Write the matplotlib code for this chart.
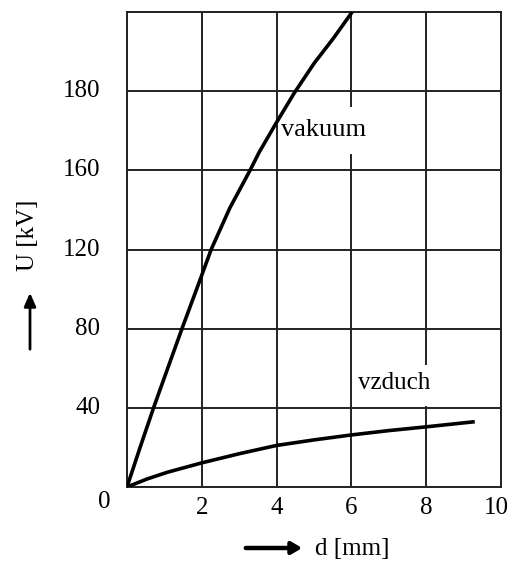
import matplotlib
matplotlib.use("Agg")
import matplotlib.pyplot as plt
from matplotlib.patches import Rectangle, FancyArrowPatch

# Data (d in mm, U in axis grid units)
vakuum_d = [0, 0.35, 0.71, 1.07, 1.47, 1.98, 2.25, 2.75, 3.29, 3.53, 3.96, 4.47, 5.0, 5.53, 6.02]
vakuum_u = [0, 20, 40, 59, 80, 106, 120, 141, 160, 169, 183, 199, 214, 227, 240]
vzduch_d = [0, 0.53, 1.07, 2.0, 3.02, 4.0, 5.0, 6.0, 7.0, 8.0, 9.25]
vzduch_u = [0, 4.0, 7.4, 12.2, 16.9, 21.0, 23.8, 26.3, 28.5, 30.4, 32.9]

x_ticks = [2, 4, 6, 8, 10]
x_labels = ["2", "4", "6", "8", "10"]
y_ticks = [40, 80, 120, 160, 200]
y_labels = ["40", "80", "120", "160", "180"]

plt.rcParams['font.family'] = ['Liberation Serif', 'DejaVu Serif']
FS = 18

fig = plt.figure(figsize=(5.09, 5.63), dpi=100)
ax = fig.add_axes([127/509, 76/563, 374/509, 475/563])

ax.set_xlim(0, 10)
ax.set_ylim(0, 240)

ax.set_xticks([0, 2, 4, 6, 8, 10])
ax.set_yticks([0, 40, 80, 120, 160, 200, 240])
ax.grid(True, color='#222222', linewidth=1.4)
ax.set_axisbelow(True)
for s in ax.spines.values():
    s.set_color('#222222')
    s.set_linewidth(1.4)

ax.plot(vakuum_d, vakuum_u, color='black', linewidth=2.6, zorder=3)
ax.plot(vzduch_d, vzduch_u, color='black', linewidth=2.6, zorder=3)

ax.set_xticklabels([""] * 6)
ax.set_yticklabels([""] * 7)
ax.tick_params(axis='both', which='both', length=0)
for xv, lab in zip(x_ticks, x_labels):
    off = -5 if lab == "10" else 0
    ax.annotate(lab, xy=(xv, 0), xycoords='data', xytext=(off * 0.72, -21 * 0.72),
                textcoords='offset points', ha='center', va='center', fontsize=FS)
for yv, lab in zip(y_ticks, y_labels):
    ax.annotate(lab, xy=(0, yv), xycoords='data', xytext=(-27 * 0.72, 0),
                textcoords='offset points', ha='right', va='center', fontsize=FS)
ax.annotate("0", xy=(0, 0), xycoords='data', xytext=(-23 * 0.72, -15 * 0.72),
            textcoords='offset points', ha='center', va='center', fontsize=FS)

# curve labels with white background patches
ax.add_patch(Rectangle((4.07, 168.5), 2.45, 23.5, facecolor='white', edgecolor='none', zorder=2.5))
ax.text(4.12, 180.5, "vakuum", fontsize=FS + 1, ha='left', va='center', zorder=2.6)
ax.add_patch(Rectangle((6.07, 41.0), 2.3, 20.8, facecolor='white', edgecolor='none', zorder=2.5))
ax.text(7.14, 52.5, "vzduch", fontsize=FS, ha='center', va='center', zorder=2.6)

# axis labels with arrows
fig.text(352/509, 1 - 549/563, "d [mm]", fontsize=FS, ha='center', va='center')
fig.add_artist(FancyArrowPatch(
    (243/509, 1 - 548/563), (305/509, 1 - 548/563), transform=fig.transFigure,
    arrowstyle='-|>,head_length=6,head_width=3.5', color='black', linewidth=3.2,
    mutation_scale=1))
fig.text(28/509, 1 - 235/563, "U [kV]", fontsize=FS, ha='center', va='center',
         rotation=90)
fig.add_artist(FancyArrowPatch(
    (30/509, 1 - 352/563), (30/509, 1 - 290/563), transform=fig.transFigure,
    arrowstyle='-|>,head_length=8,head_width=3.5', color='black', linewidth=2.0,
    mutation_scale=1))

fig.savefig("out.png", dpi=100)
